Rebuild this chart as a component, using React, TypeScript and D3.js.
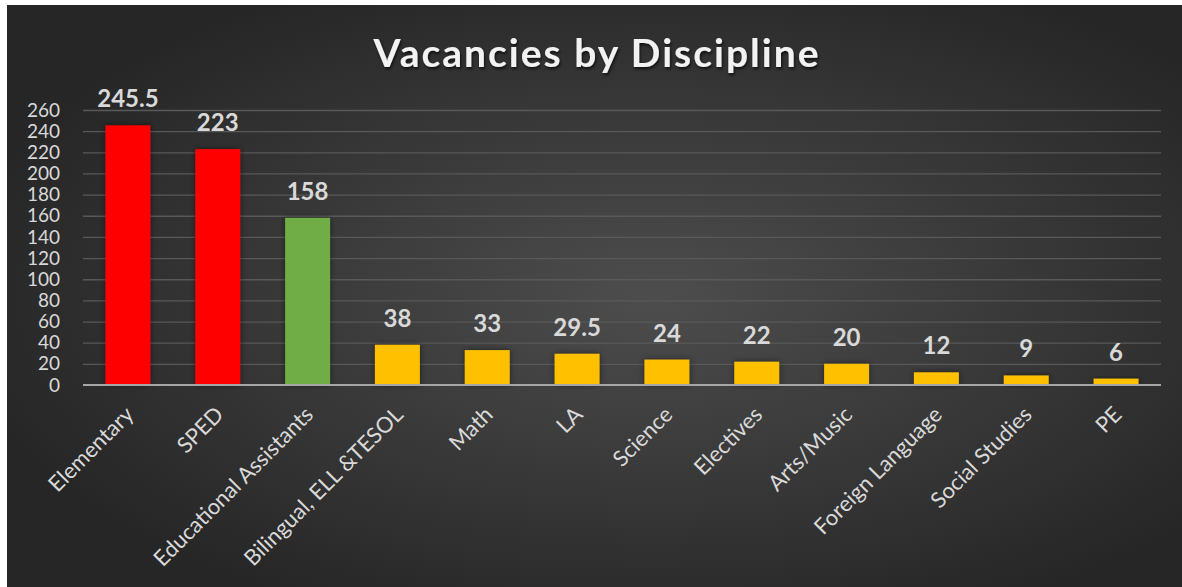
import * as d3 from "d3";
import {useEffect, useRef} from "react";

const categories = ["Elementary", "SPED", "Educational Assistants", "Bilingual, ELL &TESOL", "Math", "LA",
    "Science", "Electives", "Arts/Music", "Foreign Language", "Social Studies", "PE"];
const vacancies = [245.5, 223, 158, 38, 33, 29.5, 24, 22, 20, 12, 9, 6];
const barColors = ["#FF0000", "#FF0000", "#70AD47", "#FFC000", "#FFC000", "#FFC000", "#FFC000",
    "#FFC000", "#FFC000", "#FFC000", "#FFC000", "#FFC000"];
const yTicks = [0, 20, 40, 60, 80, 100, 120, 140, 160, 180, 200, 220, 240, 260];
const title = "Vacancies by Discipline";

const FONT = "Lato, 'Open Sans', sans-serif";

const App = () => {
    const svgRef = useRef(null);
    const width = 1182;
    const height = 587;

    useEffect(() => {
        if (!svgRef.current) return;
        d3.select(svgRef.current).selectAll("*").remove();

        const svg = d3.select(svgRef.current)
            .attr("width", width)
            .attr("height", height);

        const defs = svg.append("defs");
        const grad = defs.append("radialGradient")
            .attr("id", "bg")
            .attr("cx", "55%").attr("cy", "50%").attr("r", "60%");
        grad.append("stop").attr("offset", "0%").attr("stop-color", "#4d4d4d");
        grad.append("stop").attr("offset", "100%").attr("stop-color", "#262626");

        const shadow = defs.append("filter").attr("id", "shadow")
            .attr("x", "-30%").attr("y", "-30%").attr("width", "160%").attr("height", "160%");
        shadow.append("feDropShadow")
            .attr("dx", 0).attr("dy", 0).attr("stdDeviation", 3)
            .attr("flood-color", "#000").attr("flood-opacity", 0.5);

        const tShadow = defs.append("filter").attr("id", "tshadow");
        tShadow.append("feDropShadow")
            .attr("dx", 1).attr("dy", 2).attr("stdDeviation", 1.5)
            .attr("flood-color", "#000").attr("flood-opacity", 0.7);

        svg.append("rect").attr("width", width).attr("height", height).attr("fill", "#fff");
        svg.append("rect")
            .attr("x", 7).attr("y", 5)
            .attr("width", width - 7).attr("height", height - 5)
            .attr("fill", "url(#bg)");

        // plot area
        const left = 83, right = 1161, top = 110, bottom = 385;

        const x = d3.scaleBand()
            .domain(categories)
            .range([left, right])
            .paddingInner(0.5)
            .paddingOuter(0.25);

        const y = d3.scaleLinear()
            .domain([0, 260])
            .range([bottom, top]);

        // gridlines
        svg.append("g")
            .attr("transform", `translate(${left},0)`)
            .call(d3.axisLeft(y)
                .tickValues(yTicks.filter(v => v > 0))
                .tickSize(-(right - left))
                .tickFormat(() => ""))
            .call(g => g.select(".domain").remove())
            .call(g => g.selectAll("line").attr("stroke", "#595959").attr("stroke-width", 1.3));

        // y labels
        svg.append("g")
            .attr("transform", `translate(${left},0)`)
            .call(d3.axisLeft(y).tickValues(yTicks).tickSize(0).tickPadding(23))
            .call(g => g.select(".domain").remove())
            .call(g => g.selectAll("text")
                .attr("fill", "#d9d9d9")
                .style("font-family", FONT)
                .style("font-size", "19px"));

        // bars
        svg.append("g")
            .selectAll("rect")
            .data(vacancies)
            .enter()
            .append("rect")
            .attr("x", (d, i) => x(categories[i])!)
            .attr("y", d => y(d))
            .attr("width", x.bandwidth())
            .attr("height", d => y(0) - y(d))
            .attr("fill", (d, i) => barColors[i])
            .attr("filter", "url(#shadow)");

        // baseline
        svg.append("line")
            .attr("x1", left).attr("x2", right)
            .attr("y1", y(0)).attr("y2", y(0))
            .attr("stroke", "#a6a6a6").attr("stroke-width", 2);

        // data labels
        svg.append("g")
            .selectAll("text")
            .data(vacancies)
            .enter()
            .append("text")
            .attr("x", (d, i) => x(categories[i])! + x.bandwidth() / 2)
            .attr("y", d => y(d) - 18)
            .attr("text-anchor", "middle")
            .attr("fill", "#d9d9d9")
            .style("font-family", FONT)
            .style("font-weight", "bold")
            .style("font-size", "24px")
            .text(d => String(d));

        // x labels
        svg.append("g")
            .selectAll("text")
            .data(categories)
            .enter()
            .append("text")
            .attr("transform", d => `translate(${x(d)! + x.bandwidth() / 2 + 7},${bottom + 31}) rotate(-45)`)
            .attr("text-anchor", "end")
            .attr("fill", "#d9d9d9")
            .style("font-family", FONT)
            .style("font-size", "22px")
            .text(d => d);

        // title
        svg.append("text")
            .attr("x", 597)
            .attr("y", 67)
            .attr("text-anchor", "middle")
            .attr("fill", "#f2f2f2")
            .attr("filter", "url(#tshadow)")
            .style("font-family", FONT)
            .style("font-weight", "bold")
            .style("font-size", "39px")
            .style("letter-spacing", "2px")
            .text(title);
    }, []);

    return <svg ref={svgRef} style={{position: "absolute", left: 0, top: 0, display: "block"}}></svg>;
};

export default App;
